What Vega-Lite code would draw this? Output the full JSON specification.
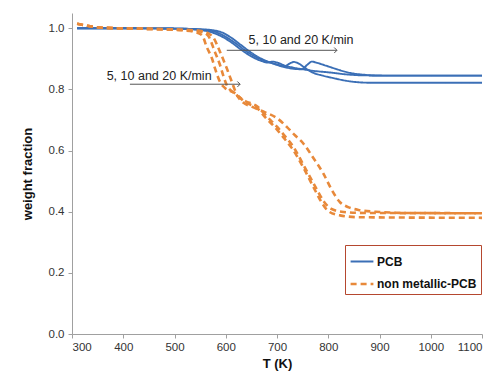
{
  "$schema": "https://vega.github.io/schema/vega-lite/v6.json",
  "width": 410,
  "height": 321,
  "autosize": "none",
  "padding": {"left": 72, "top": 13, "right": 14, "bottom": 42},
  "background": "white",
  "config": {
    "view": {"stroke": null},
    "font": "Liberation Sans",
    "axis": {
      "grid": false,
      "domainColor": "#a0a0a0",
      "tickColor": "#a0a0a0",
      "tickSize": 4,
      "labelFont": "Liberation Sans",
      "labelFontSize": 11.5,
      "labelColor": "#333333",
      "titleFont": "Liberation Sans",
      "titleFontSize": 13,
      "titleFontWeight": "bold",
      "titleColor": "#111111"
    }
  },
  "datasets": {
    "curves": [
      {"material": "PCB", "rate": "5", "T": 310, "w": 1.0},
      {"material": "PCB", "rate": "5", "T": 400, "w": 1.0},
      {"material": "PCB", "rate": "5", "T": 500, "w": 0.999},
      {"material": "PCB", "rate": "5", "T": 540, "w": 0.996},
      {"material": "PCB", "rate": "5", "T": 570, "w": 0.988},
      {"material": "PCB", "rate": "5", "T": 590, "w": 0.975},
      {"material": "PCB", "rate": "5", "T": 610, "w": 0.955},
      {"material": "PCB", "rate": "5", "T": 630, "w": 0.93},
      {"material": "PCB", "rate": "5", "T": 650, "w": 0.908},
      {"material": "PCB", "rate": "5", "T": 670, "w": 0.893},
      {"material": "PCB", "rate": "5", "T": 682, "w": 0.888},
      {"material": "PCB", "rate": "5", "T": 692, "w": 0.891},
      {"material": "PCB", "rate": "5", "T": 702, "w": 0.887},
      {"material": "PCB", "rate": "5", "T": 715, "w": 0.878},
      {"material": "PCB", "rate": "5", "T": 730, "w": 0.872},
      {"material": "PCB", "rate": "5", "T": 750, "w": 0.866},
      {"material": "PCB", "rate": "5", "T": 775, "w": 0.86},
      {"material": "PCB", "rate": "5", "T": 800, "w": 0.856},
      {"material": "PCB", "rate": "5", "T": 830, "w": 0.85},
      {"material": "PCB", "rate": "5", "T": 870, "w": 0.846},
      {"material": "PCB", "rate": "5", "T": 950, "w": 0.845},
      {"material": "PCB", "rate": "5", "T": 1100, "w": 0.845},
      {"material": "PCB", "rate": "10", "T": 310, "w": 1.0},
      {"material": "PCB", "rate": "10", "T": 400, "w": 1.0},
      {"material": "PCB", "rate": "10", "T": 500, "w": 0.999},
      {"material": "PCB", "rate": "10", "T": 550, "w": 0.996},
      {"material": "PCB", "rate": "10", "T": 580, "w": 0.988},
      {"material": "PCB", "rate": "10", "T": 600, "w": 0.972},
      {"material": "PCB", "rate": "10", "T": 620, "w": 0.95},
      {"material": "PCB", "rate": "10", "T": 640, "w": 0.925},
      {"material": "PCB", "rate": "10", "T": 660, "w": 0.905},
      {"material": "PCB", "rate": "10", "T": 680, "w": 0.892},
      {"material": "PCB", "rate": "10", "T": 700, "w": 0.882},
      {"material": "PCB", "rate": "10", "T": 715, "w": 0.876},
      {"material": "PCB", "rate": "10", "T": 725, "w": 0.885},
      {"material": "PCB", "rate": "10", "T": 733, "w": 0.89},
      {"material": "PCB", "rate": "10", "T": 742, "w": 0.885},
      {"material": "PCB", "rate": "10", "T": 755, "w": 0.87},
      {"material": "PCB", "rate": "10", "T": 770, "w": 0.855},
      {"material": "PCB", "rate": "10", "T": 790, "w": 0.845},
      {"material": "PCB", "rate": "10", "T": 810, "w": 0.837},
      {"material": "PCB", "rate": "10", "T": 840, "w": 0.827},
      {"material": "PCB", "rate": "10", "T": 880, "w": 0.822},
      {"material": "PCB", "rate": "10", "T": 1100, "w": 0.822},
      {"material": "PCB", "rate": "20", "T": 310, "w": 1.0},
      {"material": "PCB", "rate": "20", "T": 400, "w": 1.0},
      {"material": "PCB", "rate": "20", "T": 500, "w": 0.999},
      {"material": "PCB", "rate": "20", "T": 560, "w": 0.996},
      {"material": "PCB", "rate": "20", "T": 590, "w": 0.988},
      {"material": "PCB", "rate": "20", "T": 610, "w": 0.97},
      {"material": "PCB", "rate": "20", "T": 630, "w": 0.945},
      {"material": "PCB", "rate": "20", "T": 650, "w": 0.92},
      {"material": "PCB", "rate": "20", "T": 670, "w": 0.9},
      {"material": "PCB", "rate": "20", "T": 690, "w": 0.886},
      {"material": "PCB", "rate": "20", "T": 710, "w": 0.875},
      {"material": "PCB", "rate": "20", "T": 730, "w": 0.868},
      {"material": "PCB", "rate": "20", "T": 748, "w": 0.866},
      {"material": "PCB", "rate": "20", "T": 760, "w": 0.882},
      {"material": "PCB", "rate": "20", "T": 768, "w": 0.891},
      {"material": "PCB", "rate": "20", "T": 778, "w": 0.887},
      {"material": "PCB", "rate": "20", "T": 795, "w": 0.878},
      {"material": "PCB", "rate": "20", "T": 815, "w": 0.867},
      {"material": "PCB", "rate": "20", "T": 840, "w": 0.855},
      {"material": "PCB", "rate": "20", "T": 870, "w": 0.848},
      {"material": "PCB", "rate": "20", "T": 900, "w": 0.845},
      {"material": "PCB", "rate": "20", "T": 1100, "w": 0.845},
      {"material": "non metallic-PCB", "rate": "5", "T": 310, "w": 1.015},
      {"material": "non metallic-PCB", "rate": "5", "T": 330, "w": 1.008},
      {"material": "non metallic-PCB", "rate": "5", "T": 360, "w": 1.002},
      {"material": "non metallic-PCB", "rate": "5", "T": 450, "w": 0.998},
      {"material": "non metallic-PCB", "rate": "5", "T": 520, "w": 0.993},
      {"material": "non metallic-PCB", "rate": "5", "T": 540, "w": 0.988},
      {"material": "non metallic-PCB", "rate": "5", "T": 554, "w": 0.977},
      {"material": "non metallic-PCB", "rate": "5", "T": 563, "w": 0.938},
      {"material": "non metallic-PCB", "rate": "5", "T": 573, "w": 0.902},
      {"material": "non metallic-PCB", "rate": "5", "T": 579, "w": 0.869},
      {"material": "non metallic-PCB", "rate": "5", "T": 589, "w": 0.824},
      {"material": "non metallic-PCB", "rate": "5", "T": 599, "w": 0.804},
      {"material": "non metallic-PCB", "rate": "5", "T": 618, "w": 0.788},
      {"material": "non metallic-PCB", "rate": "5", "T": 638, "w": 0.758},
      {"material": "non metallic-PCB", "rate": "5", "T": 661, "w": 0.739},
      {"material": "non metallic-PCB", "rate": "5", "T": 677, "w": 0.709},
      {"material": "non metallic-PCB", "rate": "5", "T": 696, "w": 0.676},
      {"material": "non metallic-PCB", "rate": "5", "T": 712, "w": 0.644},
      {"material": "non metallic-PCB", "rate": "5", "T": 729, "w": 0.608},
      {"material": "non metallic-PCB", "rate": "5", "T": 751, "w": 0.546},
      {"material": "non metallic-PCB", "rate": "5", "T": 774, "w": 0.471},
      {"material": "non metallic-PCB", "rate": "5", "T": 788, "w": 0.428},
      {"material": "non metallic-PCB", "rate": "5", "T": 800, "w": 0.402},
      {"material": "non metallic-PCB", "rate": "5", "T": 823, "w": 0.388},
      {"material": "non metallic-PCB", "rate": "5", "T": 860, "w": 0.382},
      {"material": "non metallic-PCB", "rate": "5", "T": 1100, "w": 0.38},
      {"material": "non metallic-PCB", "rate": "10", "T": 310, "w": 1.015},
      {"material": "non metallic-PCB", "rate": "10", "T": 330, "w": 1.008},
      {"material": "non metallic-PCB", "rate": "10", "T": 360, "w": 1.002},
      {"material": "non metallic-PCB", "rate": "10", "T": 450, "w": 0.998},
      {"material": "non metallic-PCB", "rate": "10", "T": 520, "w": 0.994},
      {"material": "non metallic-PCB", "rate": "10", "T": 550, "w": 0.99},
      {"material": "non metallic-PCB", "rate": "10", "T": 565, "w": 0.977},
      {"material": "non metallic-PCB", "rate": "10", "T": 579, "w": 0.922},
      {"material": "non metallic-PCB", "rate": "10", "T": 589, "w": 0.879},
      {"material": "non metallic-PCB", "rate": "10", "T": 595, "w": 0.846},
      {"material": "non metallic-PCB", "rate": "10", "T": 602, "w": 0.814},
      {"material": "non metallic-PCB", "rate": "10", "T": 614, "w": 0.791},
      {"material": "non metallic-PCB", "rate": "10", "T": 638, "w": 0.762},
      {"material": "non metallic-PCB", "rate": "10", "T": 661, "w": 0.745},
      {"material": "non metallic-PCB", "rate": "10", "T": 680, "w": 0.712},
      {"material": "non metallic-PCB", "rate": "10", "T": 700, "w": 0.678},
      {"material": "non metallic-PCB", "rate": "10", "T": 715, "w": 0.648},
      {"material": "non metallic-PCB", "rate": "10", "T": 732, "w": 0.612},
      {"material": "non metallic-PCB", "rate": "10", "T": 752, "w": 0.552},
      {"material": "non metallic-PCB", "rate": "10", "T": 776, "w": 0.478},
      {"material": "non metallic-PCB", "rate": "10", "T": 792, "w": 0.432},
      {"material": "non metallic-PCB", "rate": "10", "T": 805, "w": 0.41},
      {"material": "non metallic-PCB", "rate": "10", "T": 830, "w": 0.399},
      {"material": "non metallic-PCB", "rate": "10", "T": 870, "w": 0.396},
      {"material": "non metallic-PCB", "rate": "10", "T": 1100, "w": 0.395},
      {"material": "non metallic-PCB", "rate": "20", "T": 310, "w": 1.015},
      {"material": "non metallic-PCB", "rate": "20", "T": 330, "w": 1.008},
      {"material": "non metallic-PCB", "rate": "20", "T": 360, "w": 1.002},
      {"material": "non metallic-PCB", "rate": "20", "T": 450, "w": 0.998},
      {"material": "non metallic-PCB", "rate": "20", "T": 520, "w": 0.995},
      {"material": "non metallic-PCB", "rate": "20", "T": 555, "w": 0.99},
      {"material": "non metallic-PCB", "rate": "20", "T": 575, "w": 0.971},
      {"material": "non metallic-PCB", "rate": "20", "T": 589, "w": 0.922},
      {"material": "non metallic-PCB", "rate": "20", "T": 602, "w": 0.869},
      {"material": "non metallic-PCB", "rate": "20", "T": 612, "w": 0.824},
      {"material": "non metallic-PCB", "rate": "20", "T": 622, "w": 0.781},
      {"material": "non metallic-PCB", "rate": "20", "T": 634, "w": 0.757},
      {"material": "non metallic-PCB", "rate": "20", "T": 650, "w": 0.744},
      {"material": "non metallic-PCB", "rate": "20", "T": 677, "w": 0.725},
      {"material": "non metallic-PCB", "rate": "20", "T": 700, "w": 0.706},
      {"material": "non metallic-PCB", "rate": "20", "T": 720, "w": 0.676},
      {"material": "non metallic-PCB", "rate": "20", "T": 735, "w": 0.65},
      {"material": "non metallic-PCB", "rate": "20", "T": 751, "w": 0.624},
      {"material": "non metallic-PCB", "rate": "20", "T": 770, "w": 0.578},
      {"material": "non metallic-PCB", "rate": "20", "T": 790, "w": 0.526},
      {"material": "non metallic-PCB", "rate": "20", "T": 807, "w": 0.471},
      {"material": "non metallic-PCB", "rate": "20", "T": 823, "w": 0.431},
      {"material": "non metallic-PCB", "rate": "20", "T": 839, "w": 0.415},
      {"material": "non metallic-PCB", "rate": "20", "T": 862, "w": 0.405},
      {"material": "non metallic-PCB", "rate": "20", "T": 901, "w": 0.399},
      {"material": "non metallic-PCB", "rate": "20", "T": 950, "w": 0.396},
      {"material": "non metallic-PCB", "rate": "20", "T": 1100, "w": 0.395}
    ],
    "notes": [
      {"label": "5, 10 and 20 K/min", "tx": 747, "ty": 0.962, "x1": 602, "x2": 817, "ay": 0.928},
      {"label": "5, 10 and 20 K/min", "tx": 470, "ty": 0.845, "x1": 413, "x2": 628, "ay": 0.817}
    ]
  },
  "layer": [
    {
      "data": {"name": "curves"},
      "mark": {"type": "line", "interpolate": "monotone"},
      "encoding": {
        "x": {
          "field": "T", "type": "quantitative", "title": "T (K)",
          "scale": {"domain": [300, 1100], "nice": false, "zero": false},
          "axis": {"values": [300, 400, 500, 600, 700, 800, 900, 1000, 1100], "format": "d", "labelPadding": 3, "titlePadding": 5}
        },
        "y": {
          "field": "w", "type": "quantitative", "title": "weight fraction",
          "scale": {"domain": [0, 1.05], "nice": false},
          "axis": {"values": [0, 0.2, 0.4, 0.6, 0.8, 1.0], "format": ".1f", "labelPadding": 4, "titlePadding": 14}
        },
        "color": {
          "field": "material", "type": "nominal", "title": null,
          "scale": {"domain": ["PCB", "non metallic-PCB"], "range": ["#3b6fb6", "#e8893a"]},
          "legend": {
            "orient": "none", "legendX": 273, "legendY": 232,
            "symbolType": "stroke", "symbolSize": 520, "symbolStrokeWidth": 2,
            "labelFontSize": 12, "labelFontWeight": "bold", "labelColor": "#111111",
            "labelFont": "Liberation Sans",
            "strokeColor": "#b5482f", "padding": 4, "rowPadding": 3, "fillColor": "white",
            "symbolOffset": 0, "labelOffset": 2
          }
        },
        "strokeDash": {
          "field": "material", "type": "nominal", "title": null,
          "scale": {"domain": ["PCB", "non metallic-PCB"], "range": [[1, 0], [6, 4]]}
        },
        "strokeWidth": {
          "field": "material", "type": "nominal", "legend": null,
          "scale": {"domain": ["PCB", "non metallic-PCB"], "range": [1.9, 2.6]}
        },
        "detail": {"field": "rate", "type": "nominal"}
      }
    },
    {
      "data": {"name": "notes"},
      "mark": {"type": "rule", "color": "#555555", "strokeWidth": 1},
      "encoding": {
        "x": {"field": "x1", "type": "quantitative"},
        "x2": {"field": "x2"},
        "y": {"field": "ay", "type": "quantitative"}
      }
    },
    {
      "data": {"name": "notes"},
      "mark": {"type": "point", "shape": "M -1 -1 L 0 0 L -1 1", "filled": false, "color": "#555555", "strokeWidth": 1, "size": 30, "opacity": 1},
      "encoding": {
        "x": {"field": "x2", "type": "quantitative"},
        "y": {"field": "ay", "type": "quantitative"}
      }
    },
    {
      "data": {"name": "notes"},
      "mark": {"type": "text", "fontSize": 12.5, "color": "#222222", "font": "Liberation Sans", "align": "center", "baseline": "middle"},
      "encoding": {
        "x": {"field": "tx", "type": "quantitative"},
        "y": {"field": "ty", "type": "quantitative"},
        "text": {"field": "label"}
      }
    }
  ]
}
